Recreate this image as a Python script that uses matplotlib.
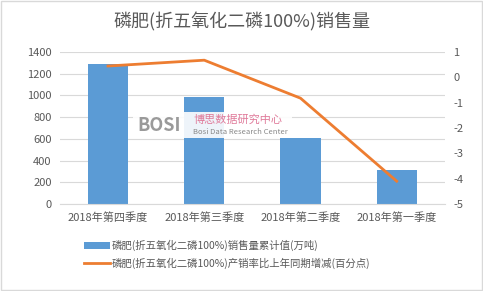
import matplotlib.pyplot as plt
import numpy as np

plt.rcParams['font.family'] = ['Noto Sans CJK SC', 'DejaVu Sans']
plt.rcParams['axes.unicode_minus'] = False

categories = ["2018年第四季度", "2018年第三季度", "2018年第二季度", "2018年第一季度"]
sales = [1290, 990, 605, 310]
change = [0.45, 0.68, -0.82, -4.1]
bar_label = "磷肥(折五氧化二磷100%)销售量累计值(万吨)"
line_label = "磷肥(折五氧化二磷100%)产销率比上年同期增减(百分点)"
title = "磷肥(折五氧化二磷100%)销售量"

blue = "#5b9bd5"
orange = "#ed7d31"
gray = "#595959"

fig = plt.figure(figsize=(4.83, 2.91), dpi=100)
ax = fig.add_axes([0.124, 0.299, 0.797, 0.522])
x = np.arange(len(categories))
b = ax.bar(x, sales, width=0.42, color=blue, label=bar_label, zorder=2)
ax.set_ylim(0, 1400)
ax.set_yticks(range(0, 1401, 200))
ax.set_xlim(-0.5, 3.5)
ax.set_xticks(x)
ax.set_xticklabels(categories)
ax.grid(axis='y', color='#d9d9d9', linewidth=0.8, zorder=0)
for s in ax.spines.values():
    s.set_visible(False)
ax.spines['bottom'].set_visible(True)
ax.spines['bottom'].set_color('#d9d9d9')
ax.tick_params(length=0, labelsize=8, colors=gray, pad=6)

ax2 = ax.twinx()
l, = ax2.plot(x, change, color=orange, linewidth=2, label=line_label, zorder=3)
ax2.set_ylim(-5, 1)
ax2.set_yticks(range(-5, 2))
for s in ax2.spines.values():
    s.set_visible(False)
ax2.tick_params(length=0, labelsize=8, colors=gray, pad=6)

fig.text(0.5, 0.925, title, ha='center', va='center', fontsize=13, color=gray)

# watermark
fig.patches.append(plt.Rectangle((0.275, 0.525), 0.33, 0.09, transform=fig.transFigure,
                                 facecolor='white', edgecolor='none', alpha=0.9, zorder=2.5))
fig.text(0.285, 0.57, "BOSI", fontsize=13, fontweight='bold', color='#9a9a9a', ha='left', va='center', zorder=4)
fig.text(0.4, 0.59, "博思数据研究中心", fontsize=8, color='#e07a9a', ha='left', va='center', zorder=4)
fig.text(0.4, 0.545, "Bosi Data Research Center", fontsize=5.5, color='#888888', ha='left', va='center', zorder=4)

fig.legend(handles=[b, l], labels=[bar_label, line_label], loc='upper left',
           bbox_to_anchor=(0.165, 0.19), frameon=False, fontsize=7.5,
           labelcolor=gray, handlelength=2.5, handletextpad=0.2, labelspacing=0.6,
           borderaxespad=0)

fig.patches.append(plt.Rectangle((0.002, 0.003), 0.995, 0.993, transform=fig.transFigure,
                                 fill=False, edgecolor='#d9d9d9', linewidth=1))
fig.savefig("out.png", dpi=100)
